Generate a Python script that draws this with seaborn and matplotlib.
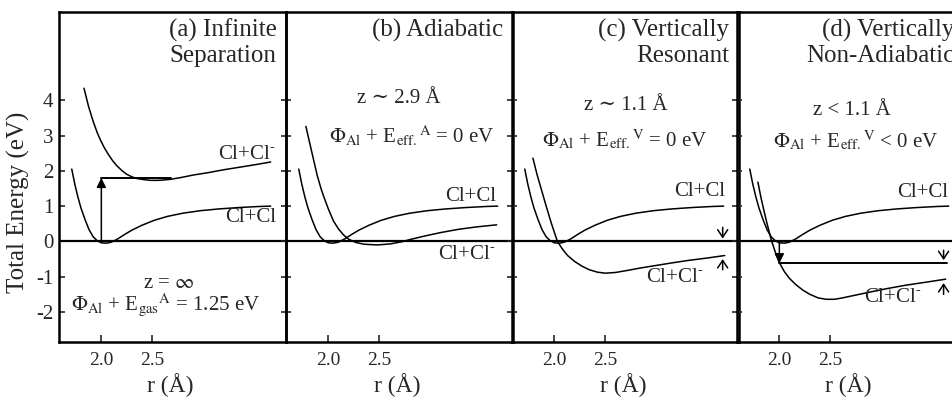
import matplotlib
matplotlib.use("Agg")
import matplotlib.pyplot as plt
import pandas as pd
import seaborn as sns

# Neutral Cl+Cl potential curve (same in every panel)
r_neutral = [1.71, 1.74, 1.77, 1.80, 1.84, 1.88, 1.92, 1.96, 2.00, 2.05, 2.10, 2.16,
             2.23, 2.30, 2.40, 2.52, 2.65, 2.80, 2.97, 3.15, 3.35, 3.55, 3.66]
E_neutral = [2.05, 1.62, 1.26, 0.95, 0.62, 0.33, 0.13, 0.02, -0.04, -0.05, -0.02, 0.07,
             0.20, 0.32, 0.46, 0.60, 0.71, 0.80, 0.87, 0.92, 0.96, 0.99, 1.00]

# Ionic Cl+Cl- curve for each surface distance
r_ion_a = [1.83, 1.875, 1.92, 1.96, 1.99, 2.03, 2.07, 2.11, 2.15, 2.20, 2.25, 2.30, 2.35,
           2.42, 2.48, 2.55, 2.61, 2.68, 2.78, 2.90, 3.05, 3.20, 3.35, 3.50, 3.66]
E_ion_a = [4.34, 3.82, 3.40, 3.08, 2.88, 2.65, 2.46, 2.29, 2.15, 2.01, 1.90, 1.83, 1.78,
           1.75, 1.73, 1.73, 1.74, 1.76, 1.81, 1.88, 1.95, 2.03, 2.10, 2.17, 2.25]

r_ion_b = [1.78, 1.81, 1.85, 1.89, 1.93, 1.96, 2.00, 2.05, 2.10, 2.15, 2.20, 2.27, 2.35,
           2.48, 2.61, 2.72, 2.81, 2.94, 3.10, 3.27, 3.45, 3.65]
E_ion_b = [3.26, 2.88, 2.38, 1.88, 1.48, 1.23, 0.92, 0.58, 0.35, 0.18, 0.06, -0.03, -0.08,
           -0.10, -0.07, -0.01, 0.06, 0.15, 0.25, 0.34, 0.41, 0.47]

r_ion_c = [1.79, 1.83, 1.87, 1.92, 1.97, 2.03, 2.08, 2.13, 2.20, 2.27, 2.34, 2.42, 2.50,
           2.60, 2.72, 2.85, 3.00, 3.15, 3.31, 3.50, 3.67]
E_ion_c = [2.36, 1.90, 1.50, 1.00, 0.52, 0.00, -0.22, -0.40, -0.57, -0.70, -0.80, -0.87,
           -0.90, -0.88, -0.82, -0.75, -0.68, -0.61, -0.54, -0.47, -0.40]

r_ion_d = [1.79, 1.82, 1.85, 1.88, 1.92, 1.96, 2.00, 2.05, 2.10, 2.16, 2.23, 2.30, 2.38,
           2.46, 2.54, 2.62, 2.75, 2.88, 3.05, 3.24, 3.45, 3.63]
E_ion_d = [1.68, 1.24, 0.86, 0.50, 0.05, -0.30, -0.60, -0.86, -1.05, -1.22, -1.38, -1.50,
           -1.60, -1.64, -1.64, -1.60, -1.52, -1.44, -1.34, -1.24, -1.15, -1.07]

panels = ["a", "b", "c", "d"]
titles = [("(a) Infinite", "Separation"), ("(b) Adiabatic", None),
          ("(c) Vertically", "Resonant"), ("(d) Vertically", "Non-Adiabatic")]
x_ticks = [2.0, 2.5]
x_tick_labels = ["2.0", "2.5"]
y_ticks = [-2, -1, 0, 1, 2, 3, 4]

# Excitation / transition energies marked with arrows
E_vertical_a = 1.80   # vertical excitation in (a)
E_drop_d = -0.62      # vertical drop in (d)

ion_r = {"a": r_ion_a, "b": r_ion_b, "c": r_ion_c, "d": r_ion_d}
ion_E = {"a": E_ion_a, "b": E_ion_b, "c": E_ion_c, "d": E_ion_d}

rows = []
for p in panels:
    for r, e in zip(r_neutral, E_neutral):
        rows.append({"panel": p, "curve": "Cl+Cl", "r": r, "E": e})
    for r, e in zip(ion_r[p], ion_E[p]):
        rows.append({"panel": p, "curve": "Cl+Cl-", "r": r, "E": e})
df = pd.DataFrame(rows)

sns.set_style("ticks")
plt.rcParams["font.family"] = ["Liberation Serif", "DejaVu Serif"]
plt.rcParams["mathtext.fontset"] = "stix"

W, H = 952, 400
fig = plt.figure(figsize=(W / 100, H / 100), dpi=100)
lefts = [59, 286, 512, 737]
top_px, bottom_px, width_px = 12, 342, 227

axes = []
for i, p in enumerate(panels):
    ax = fig.add_axes([lefts[i] / W, (H - bottom_px) / H, width_px / W,
                       (bottom_px - top_px) / H])
    ax.set_facecolor("none")
    sub = df[df["panel"] == p]
    sns.lineplot(data=sub, x="r", y="E", units="curve", estimator=None, sort=False,
                 color="black", linewidth=1.1, ax=ax, legend=False)
    ax.axhline(0, color="black", linewidth=1.6, zorder=1)
    ax.set_xlim(1.585, 3.81)
    ax.set_ylim(-2.85, 6.5)
    ax.set_xticks(x_ticks)
    ax.set_xticklabels(x_tick_labels)
    ax.set_yticks(y_ticks)
    ax.tick_params(axis="x", direction="in", length=5, width=1.2, labelsize=14, pad=7)
    if i == 0:
        ax.set_yticklabels([str(v) for v in y_ticks])
        ax.tick_params(axis="y", direction="in", length=4, width=1.2, labelsize=15, pad=4)
    else:
        ax.tick_params(axis="y", direction="inout", length=7, width=1.2, labelleft=False)
    for s in ax.spines.values():
        s.set_linewidth(1.8)
        s.set_color("black")
    ax.set_xlabel("r (Å)", fontsize=17, labelpad=4)
    ax.xaxis.set_label_coords(0.49, -0.093)
    ax.set_ylabel("")
    t1, t2 = titles[i]
    ax.text(0.958, 0.925, t1, transform=ax.transAxes, ha="right", va="baseline", fontsize=18)
    if t2:
        ax.text(0.958, 0.848, t2, transform=ax.transAxes, ha="right", va="baseline", fontsize=18)
    axes.append(ax)

ax_a, ax_b, ax_c, ax_d = axes
lab = 15
ion_label = "Cl+Cl$^{\\text{-}}$"

# (a) infinite separation
ax_a.annotate("", xy=(2.0, E_vertical_a), xytext=(2.0, 0),
              arrowprops=dict(arrowstyle="-|>", color="black", lw=1.1,
                              mutation_scale=14, shrinkA=0, shrinkB=0))
ax_a.plot([2.0, 2.68], [E_vertical_a, E_vertical_a], color="black", lw=1.4)
ax_a.text(3.71, 2.46, ion_label, ha="right", va="center", fontsize=lab)
ax_a.text(3.71, 0.68, "Cl+Cl", ha="right", va="center", fontsize=lab)
ax_a.text(2.66, -1.20, "z = $\\infty$", ha="center", va="center", fontsize=lab)
ax_a.text(2.63, -1.80, "$\\Phi_{\\rm Al}$ + E$_{\\rm gas}{}^{\\rm A}$ = 1.25 eV",
          ha="center", va="center", fontsize=lab)

# (b) adiabatic
ax_b.text(3.64, 1.27, "Cl+Cl", ha="right", va="center", fontsize=lab)
ax_b.text(3.64, -0.37, ion_label, ha="right", va="center", fontsize=lab)
ax_b.text(2.69, 4.05, "z ∼ 2.9 Å", ha="center", va="center", fontsize=lab)
ax_b.text(2.82, 2.97, "$\\Phi_{\\rm Al}$ + E$_{\\rm eff.}{}^{\\rm A}$ = 0 eV",
          ha="center", va="center", fontsize=lab)

# (c) vertically resonant
ax_c.text(3.67, 1.41, "Cl+Cl", ha="right", va="center", fontsize=lab)
ax_c.text(3.46, -1.02, ion_label, ha="right", va="center", fontsize=lab)
ax_c.text(2.70, 3.85, "z ∼ 1.1 Å", ha="center", va="center", fontsize=lab)
ax_c.text(2.69, 2.87, "$\\Phi_{\\rm Al}$ + E$_{\\rm eff.}{}^{\\rm V}$ = 0 eV",
          ha="center", va="center", fontsize=lab)
small = dict(arrowstyle="->, head_length=0.45, head_width=0.3", color="black", lw=1.1,
             mutation_scale=12, shrinkA=0, shrinkB=0)
ax_c.annotate("", xy=(3.65, 0.08), xytext=(3.65, 0.40), arrowprops=small)
ax_c.annotate("", xy=(3.65, -0.50), xytext=(3.65, -0.80), arrowprops=small)

# (d) vertically non-adiabatic
ax_d.annotate("", xy=(2.0, E_drop_d), xytext=(2.0, 0),
              arrowprops=dict(arrowstyle="-|>", color="black", lw=1.1,
                              mutation_scale=14, shrinkA=0, shrinkB=0))
ax_d.plot([2.0, 3.64], [E_drop_d, E_drop_d], color="black", lw=1.4)
ax_d.text(3.65, 1.38, "Cl+Cl", ha="right", va="center", fontsize=lab)
ax_d.text(3.40, -1.58, ion_label, ha="right", va="center", fontsize=lab)
ax_d.text(2.71, 3.72, "z < 1.1 Å", ha="center", va="center", fontsize=lab)
ax_d.text(2.75, 2.85, "$\\Phi_{\\rm Al}$ + E$_{\\rm eff.}{}^{\\rm V}$ < 0 eV",
          ha="center", va="center", fontsize=lab)
ax_d.annotate("", xy=(3.61, -0.53), xytext=(3.61, -0.25), arrowprops=small)
ax_d.annotate("", xy=(3.61, -1.18), xytext=(3.61, -1.50), arrowprops=small)

fig.text(18 / W, (H - 202) / H, "Total Energy (eV)", rotation=90, ha="center",
         va="center", fontsize=18)

fig.savefig("out.png", dpi=100)
